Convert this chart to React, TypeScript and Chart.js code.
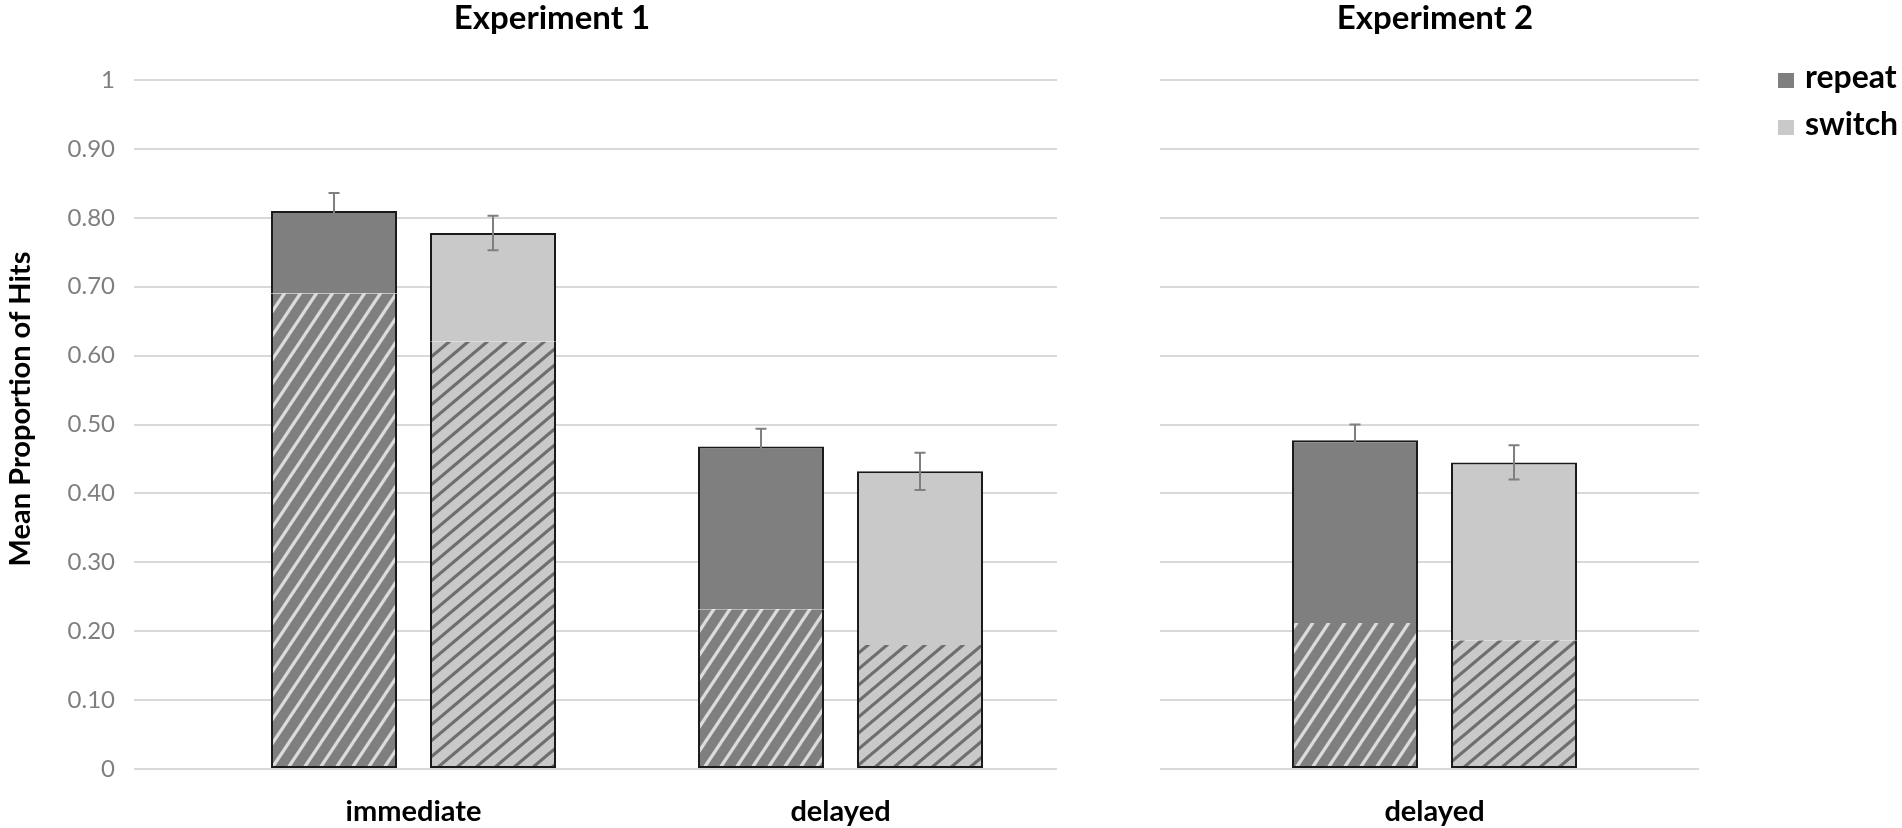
import React, { useEffect, useRef } from 'react';
import Chart from 'chart.js/auto';

// ---- data ----
const SERIES = ['repeat', 'switch'];
const CATEGORIES_EXP1 = ['immediate', 'delayed'];
const CATEGORIES_EXP2 = ['delayed'];

// Experiment 1 (bar height = mean, hatched part = lower share)
const REPEAT_MEAN_1 = [0.81, 0.468];
const REPEAT_HATCH_1 = [0.69, 0.232];
const REPEAT_ERR_1 = [0.026, 0.026];
const SWITCH_MEAN_1 = [0.778, 0.432];
const SWITCH_HATCH_1 = [0.62, 0.18];
const SWITCH_ERR_1 = [0.025, 0.027];

// Experiment 2
const REPEAT_MEAN_2 = [0.477];
const REPEAT_HATCH_2 = [0.212];
const REPEAT_ERR_2 = [0.023];
const SWITCH_MEAN_2 = [0.445];
const SWITCH_HATCH_2 = [0.187];
const SWITCH_ERR_2 = [0.025];

const Y_TICKS = ['0', '0.10', '0.20', '0.30', '0.40', '0.50', '0.60', '0.70', '0.80', '0.90', '1'];
const Y_TITLE = 'Mean Proportion of Hits';

// ---- styles ----
const W = 1902;
const H = 828;
const FONT = 'Lato';
const REPEAT_COLOR = '#7f7f7f';
const SWITCH_COLOR = '#c9c9c9';
const BORDER = '#1a1a1a';
const GRID = '#d9d9d9';

function makeHatch(bg: string, line: string, w: number, h: number, lw: number) {
  const c = document.createElement('canvas');
  c.width = w;
  c.height = h;
  const ctx = c.getContext('2d')!;
  ctx.fillStyle = bg;
  ctx.fillRect(0, 0, w, h);
  ctx.strokeStyle = line;
  ctx.lineWidth = lw;
  for (const dx of [-w, 0, w]) {
    ctx.beginPath();
    ctx.moveTo(dx - w, 2 * h);
    ctx.lineTo(dx + 2 * w, -h);
    ctx.stroke();
  }
  return ctx.createPattern(c, 'repeat')!;
}

function buildDatasets(
  repMean: number[], repHatch: number[], swMean: number[], swHatch: number[],
  repPattern: CanvasPattern, swPattern: CanvasPattern
) {
  const pts = (arr: number[]) => arr.map((y, i) => ({ x: i, y }));
  const lower = { left: 2, right: 2, bottom: 2, top: 0 };
  const upper = { left: 2, right: 2, top: 2, bottom: 0 };
  return [
    { label: SERIES[0] + ' (hatched)', stack: 'repeat', data: pts(repHatch), backgroundColor: repPattern, borderColor: BORDER, borderWidth: lower, borderSkipped: false },
    { label: SERIES[0], stack: 'repeat', data: pts(repMean.map((m, i) => m - repHatch[i])), backgroundColor: REPEAT_COLOR, borderColor: BORDER, borderWidth: upper, borderSkipped: false },
    { label: SERIES[1] + ' (hatched)', stack: 'switch', data: pts(swHatch), backgroundColor: swPattern, borderColor: BORDER, borderWidth: lower, borderSkipped: false },
    { label: SERIES[1], stack: 'switch', data: pts(swMean.map((m, i) => m - swHatch[i])), backgroundColor: SWITCH_COLOR, borderColor: BORDER, borderWidth: upper, borderSkipped: false },
  ];
}

function errorBarPlugin(items: { dataset: number; means: number[]; errors: number[] }[]) {
  return {
    id: 'errorBars',
    afterDatasetsDraw(chart: any) {
      const ctx = chart.ctx;
      const y = chart.scales.y;
      ctx.save();
      ctx.strokeStyle = '#7f7f7f';
      ctx.lineWidth = 2;
      items.forEach((it) => {
        const meta = chart.getDatasetMeta(it.dataset);
        meta.data.forEach((bar: any, i: number) => {
          const top = y.getPixelForValue(it.means[i] + it.errors[i]);
          const bot = y.getPixelForValue(it.means[i] - it.errors[i]);
          ctx.beginPath();
          ctx.moveTo(bar.x, top);
          ctx.lineTo(bar.x, bot);
          ctx.moveTo(bar.x - 5.5, top);
          ctx.lineTo(bar.x + 5.5, top);
          ctx.moveTo(bar.x - 5.5, bot);
          ctx.lineTo(bar.x + 5.5, bot);
          ctx.stroke();
        });
      });
      ctx.restore();
    },
  };
}

type TextItem = { text: string; x: number; y: number; font: string; swatch?: string; rotate?: boolean };

function textPlugin(items: TextItem[]) {
  return {
    id: 'panelText',
    afterDraw(chart: any) {
      const ctx = chart.ctx;
      items.forEach((t) => {
        ctx.save();
        ctx.font = t.font;
        ctx.fillStyle = '#000';
        if (t.swatch) {
          ctx.fillStyle = t.swatch;
          ctx.fillRect(t.x - 27, t.y - 15, 16, 15);
          ctx.fillStyle = '#000';
          ctx.textAlign = 'left';
          ctx.textBaseline = 'alphabetic';
          ctx.fillText(t.text, t.x, t.y);
        } else if (t.rotate) {
          ctx.translate(t.x, t.y);
          ctx.rotate(-Math.PI / 2);
          ctx.textAlign = 'center';
          ctx.textBaseline = 'middle';
          ctx.fillText(t.text, 0, 0);
        } else {
          ctx.textAlign = 'center';
          ctx.textBaseline = 'alphabetic';
          ctx.fillText(t.text, t.x, t.y);
        }
        ctx.restore();
      });
    },
  };
}

function makeOptions(categories: string[], xMin: number, xMax: number, catPct: number, pad: any, showY: boolean) {
  return {
    animation: false,
    responsive: false,
    events: [],
    layout: { padding: pad },
    datasets: { bar: { categoryPercentage: catPct, barPercentage: 0.7925 } },
    plugins: { legend: { display: false }, tooltip: { enabled: false }, title: { display: false } },
    scales: {
      x: {
        type: 'linear',
        stacked: true,
        offset: false,
        bounds: 'data',
        min: xMin,
        max: xMax,
        grid: { display: false, offset: false },
        border: { display: false },
        afterBuildTicks: (s: any) => { s.ticks = categories.map((_, i) => ({ value: i })); },
        afterFit: (s: any) => { s.height = 59; },
        ticks: {
          autoSkip: false,
          maxRotation: 0,
          padding: 17,
          color: '#000',
          font: { family: FONT, size: 29, weight: 'bold' },
          callback: (v: number) => categories[Math.round(v)] ?? '',
        },
      },
      y: {
        stacked: true,
        min: 0,
        max: 1,
        afterFit: (s: any) => { s.width = showY ? 134 : 0; },
        grid: { color: GRID, lineWidth: 2, drawTicks: false },
        border: { display: false },
        ticks: {
          display: showY,
          stepSize: 0.1,
          padding: 19,
          color: '#7f7f7f',
          font: { family: FONT, size: 24 },
          callback: (_v: number, i: number) => Y_TICKS[i],
        },
      },
    },
  } as any;
}

const App: React.FC = () => {
  const leftRef = useRef<HTMLCanvasElement>(null);
  const rightRef = useRef<HTMLCanvasElement>(null);

  useEffect(() => {
    if (!leftRef.current || !rightRef.current) return;
    const repPattern = makeHatch(REPEAT_COLOR, '#dcdcdc', 16, 24, 3.2);
    const swPattern = makeHatch(SWITCH_COLOR, '#6e6e6e', 19, 16, 3.2);

    const left = new Chart(leftRef.current, {
      type: 'bar',
      data: { datasets: buildDatasets(REPEAT_MEAN_1, REPEAT_HATCH_1, SWITCH_MEAN_1, SWITCH_HATCH_1, repPattern, swPattern) as any },
      options: makeOptions(CATEGORIES_EXP1, -0.6546, 1.507, 0.7447, { top: 80, right: W - 1057, left: 0, bottom: 0 }, true),
      plugins: [
        errorBarPlugin([
          { dataset: 1, means: REPEAT_MEAN_1, errors: REPEAT_ERR_1 },
          { dataset: 3, means: SWITCH_MEAN_1, errors: SWITCH_ERR_1 },
        ]),
        textPlugin([
          { text: 'Experiment 1', x: 552, y: 29, font: `bold 33px ${FONT}` },
          { text: Y_TITLE, x: 21, y: 409, font: `bold 29px ${FONT}`, rotate: true },
        ]),
      ],
    });

    const right = new Chart(rightRef.current, {
      type: 'bar',
      data: { datasets: buildDatasets(REPEAT_MEAN_2, REPEAT_HATCH_2, SWITCH_MEAN_2, SWITCH_HATCH_2, repPattern, swPattern) as any },
      options: makeOptions(CATEGORIES_EXP2, -0.5093, 0.4907, 0.59, { top: 80, right: W - 1699, left: 1160, bottom: 0 }, false),
      plugins: [
        errorBarPlugin([
          { dataset: 1, means: REPEAT_MEAN_2, errors: REPEAT_ERR_2 },
          { dataset: 3, means: SWITCH_MEAN_2, errors: SWITCH_ERR_2 },
        ]),
        textPlugin([
          { text: 'Experiment 2', x: 1435, y: 29, font: `bold 33px ${FONT}` },
          { text: SERIES[0], x: 1805, y: 88, font: `bold 32px ${FONT}`, swatch: REPEAT_COLOR },
          { text: SERIES[1], x: 1805, y: 135, font: `bold 32px ${FONT}`, swatch: SWITCH_COLOR },
        ]),
      ],
    });

    return () => {
      left.destroy();
      right.destroy();
    };
  }, []);

  return (
    <div style={{ position: 'fixed', left: 0, top: 0, width: W, height: H, background: '#fff' }}>
      <canvas ref={leftRef} width={W} height={H} style={{ position: 'absolute', left: 0, top: 0 }} />
      <canvas ref={rightRef} width={W} height={H} style={{ position: 'absolute', left: 0, top: 0 }} />
    </div>
  );
};

export default App;
